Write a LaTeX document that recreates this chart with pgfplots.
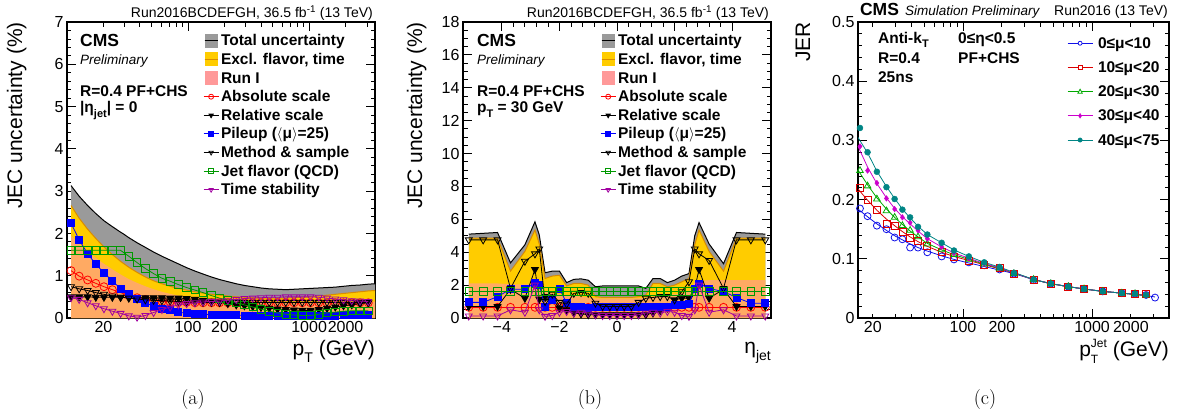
\documentclass[border=0pt]{standalone}
\usepackage{fontspec}
\usepackage{pgfplots}
\pgfplotsset{compat=1.18}
\newfontfamily\arial{Liberation Sans}
\newcommand{\fA}{\arial\fontsize{16}{19}\selectfont}
\newcommand{\fB}{\arial\bfseries\fontsize{15.5}{18}\selectfont}
\newcommand{\fL}{\arial\fontsize{21}{25}\selectfont}
\newcommand{\fT}{\arial\fontsize{14}{17}\selectfont}
\newcommand{\fCMS}{\arial\bfseries\fontsize{17.5}{21}\selectfont}
\newcommand{\fP}{\arial\itshape\fontsize{13.5}{16}\selectfont}
\newcommand{\sub}[2]{\raisebox{#1}{\fontsize{11}{11}\selectfont #2}}
\definecolor{rootgray}{HTML}{9A9A9A}
\definecolor{rootgold}{HTML}{FFCC00}
\definecolor{rootorange}{HTML}{D98C00}
\definecolor{runI}{HTML}{FF9999}
\definecolor{rgreen}{HTML}{009900}
\definecolor{rpurple}{HTML}{A000A0}
\definecolor{cblue}{HTML}{1010E8}
\definecolor{cred}{HTML}{DD0000}
\definecolor{cgreen}{HTML}{00AA00}
\definecolor{cmag}{HTML}{CC00CC}
\definecolor{cteal}{HTML}{008585}
\tikzset{t/.style={inner sep=0pt}}
\pgfplotsset{
 cms/.style={
  scale only axis, anchor=south west, clip mode=individual,
  tick align=inside, major tick length=9pt, minor tick length=4.5pt,
  axis line style={line width=1.5pt},
  tick style={line width=0.8pt, black},
  tick label style={font=\fA},
  /pgf/number format/assume math mode=true,
  legend cell align=left,
  legend style={draw=none, fill=none, inner sep=0pt, font=\fB, row sep=2.6pt, column sep=2pt,
    nodes={inner sep=0pt, text height=13pt, text depth=3pt}},
  legend image code/.code={\draw[mark repeat=2,mark phase=2,#1] plot coordinates {(0pt,0pt) (7.5pt,0pt) (15pt,0pt)};},
  legend image post style={mark size=2.5pt},
 },
 jl/.style={line width=0.8pt, mark size=4pt},
 gbox/.style={legend image code/.code={\fill[rootgray, fill opacity=1] (1pt,-7pt) rectangle (14pt,7pt); \draw[black,line width=1pt] (1pt,0pt)--(14pt,0pt);}},
 ybox/.style={legend image code/.code={\fill[rootgold, fill opacity=1] (1pt,-7pt) rectangle (14pt,7pt); \draw[rootorange,line width=1.2pt] (1pt,0pt)--(14pt,0pt);}},
 rbox/.style={legend image code/.code={\fill[runI, fill opacity=1] (1pt,-7pt) rectangle (14pt,7pt);}},
}
\begin{document}
\begin{tikzpicture}
\useasboundingbox (0pt,0pt) rectangle (1180pt,416pt);
% ================= (a) =================
\begin{axis}[cms, at={(67pt,98pt)}, width=308pt, height=296pt,
  xmode=log, xmin=10, xmax=3500, ymin=0, ymax=7,
  xtick={100,1000}, xticklabels={100,1000},
  extra x ticks={20,200,2000}, extra x tick labels={20,200,2000},
  extra x tick style={major tick length=4.5pt},
  minor xtick={20,30,40,50,60,70,80,90,200,300,400,500,600,700,800,900,2000,3000},
  ytick={0,1,2,3,4,5,6,7}, minor y tick num=4,
  legend style={at={(0.4416,0.9639)}, anchor=north west}]
\addplot[fill=rootgray, draw=none, gbox] coordinates {(10.8,3.13)(12.6,2.88)(14.8,2.66)(17.3,2.47)(20.2,2.3)(23.7,2.16)(27.7,2.03)(29.2,1.99)(32.4,1.9)(37.9,1.78)(44.4,1.67)(51.9,1.56)(60.8,1.46)(71.1,1.37)(83.2,1.28)(97.3,1.19)(114,1.11)(133,1.04)(156,0.97)(182,0.91)(213,0.86)(250,0.81)(292,0.77)(342,0.74)(400,0.71)(468,0.69)(548,0.68)(641,0.67)(750,0.68)(877,0.69)(1026,0.7)(1201,0.71)(1405,0.72)(1644,0.73)(1923,0.75)(2250,0.77)(2633,0.78)(3080,0.8)(3500,0.81)} \closedcycle;
\addlegendentry{Total uncertainty}
\addplot[black, line width=1pt, forget plot] coordinates {(10.8,3.13)(12.6,2.88)(14.8,2.66)(17.3,2.47)(20.2,2.3)(23.7,2.16)(27.7,2.03)(29.2,1.99)(32.4,1.9)(37.9,1.78)(44.4,1.67)(51.9,1.56)(60.8,1.46)(71.1,1.37)(83.2,1.28)(97.3,1.19)(114,1.11)(133,1.04)(156,0.97)(182,0.91)(213,0.86)(250,0.81)(292,0.77)(342,0.74)(400,0.71)(468,0.69)(548,0.68)(641,0.67)(750,0.68)(877,0.69)(1026,0.7)(1201,0.71)(1405,0.72)(1644,0.73)(1923,0.75)(2250,0.77)(2633,0.78)(3080,0.8)(3500,0.81)};
\addplot[fill=rootgold, draw=none, ybox] coordinates {(10.8,2.66)(12.6,2.36)(14.8,2.1)(17.3,1.88)(20.2,1.68)(23.7,1.5)(27.7,1.34)(32.4,1.2)(37.9,1.08)(44.4,0.97)(51.9,0.88)(60.8,0.81)(71.1,0.75)(83.2,0.7)(97.3,0.66)(114,0.62)(133,0.59)(156,0.56)(182,0.54)(213,0.52)(250,0.5)(292,0.49)(342,0.48)(400,0.47)(468,0.47)(548,0.47)(641,0.47)(750,0.48)(877,0.49)(1026,0.5)(1201,0.52)(1405,0.54)(1644,0.56)(1923,0.58)(2250,0.6)(2633,0.62)(3080,0.64)(3500,0.65)} \closedcycle;
\addlegendentry{Excl. flavor, time}
\addplot[rootorange, line width=1pt, forget plot] coordinates {(10.8,2.66)(12.6,2.36)(14.8,2.1)(17.3,1.88)(20.2,1.68)(23.7,1.5)(27.7,1.34)(32.4,1.2)(37.9,1.08)(44.4,0.97)(51.9,0.88)(60.8,0.81)(71.1,0.75)(83.2,0.7)(97.3,0.66)(114,0.62)(133,0.59)(156,0.56)(182,0.54)(213,0.52)(250,0.5)(292,0.49)(342,0.48)(400,0.47)(468,0.47)(548,0.47)(641,0.47)(750,0.48)(877,0.49)(1026,0.5)(1201,0.52)(1405,0.54)(1644,0.56)(1923,0.58)(2250,0.6)(2633,0.62)(3080,0.64)(3500,0.65)};
\addplot[fill=runI, fill opacity=0.65, draw=none, rbox] coordinates {(10.8,1.95)(12.6,1.75)(14.8,1.57)(17.3,1.42)(20.2,1.28)(23.7,1.15)(27.7,1.03)(32.4,0.92)(37.9,0.83)(44.4,0.75)(51.9,0.68)(60.8,0.62)(71.1,0.57)(83.2,0.53)(97.3,0.49)(133,0.45)(182,0.42)(250,0.4)(400,0.38)(641,0.37)(1026,0.37)(1644,0.37)(2633,0.38)(3500,0.39)} \closedcycle;
\addlegendentry{Run I}
\addplot[red, mark=o, jl] coordinates {(10.8,1.12)(12.6,0.99)(14.8,0.9)(17.3,0.82)(20.2,0.74)(23.7,0.67)(27.7,0.6)(32.4,0.53)(37.9,0.48)(44.4,0.44)(51.9,0.41)(60.8,0.39)(71.1,0.38)(83.2,0.37)(97.3,0.37)(114,0.36)(133,0.36)(156,0.36)(182,0.36)(213,0.36)(250,0.36)(292,0.36)(342,0.36)(400,0.36)(468,0.36)(548,0.36)(641,0.36)(750,0.36)(877,0.36)(1026,0.36)(1201,0.36)(1405,0.36)(1644,0.36)(1923,0.36)(2250,0.36)(2633,0.36)(3080,0.36)};
\addlegendentry{Absolute scale}
\addplot[black, mark=triangle*, mark options={rotate=180}, jl] coordinates {(10.8,0.5)(12.6,0.5)(14.8,0.5)(17.3,0.49)(20.2,0.49)(23.7,0.49)(27.7,0.49)(32.4,0.48)(37.9,0.48)(44.4,0.48)(51.9,0.48)(60.8,0.48)(71.1,0.47)(83.2,0.47)(97.3,0.46)(114,0.44)(133,0.42)(156,0.4)(182,0.37)(213,0.34)(250,0.31)(292,0.29)(342,0.27)(400,0.25)(468,0.23)(548,0.21)(641,0.2)(750,0.19)(877,0.18)(1026,0.18)(1201,0.2)(1405,0.23)(1644,0.26)(1923,0.29)(2250,0.31)(2633,0.34)(3080,0.36)};
\addlegendentry{Relative scale}
\addplot[blue, mark=square*, jl, mark size=3.5pt] coordinates {(10.8,2.24)(12.6,1.85)(14.8,1.52)(17.3,1.27)(20.2,1.07)(23.7,0.87)(27.7,0.7)(32.4,0.57)(37.9,0.46)(44.4,0.36)(51.9,0.28)(60.8,0.22)(71.1,0.18)(83.2,0.14)(97.3,0.11)(114,0.1)(133,0.09)(156,0.08)(182,0.07)(213,0.07)(250,0.07)(292,0.06)(342,0.06)(400,0.06)(468,0.06)(548,0.06)(641,0.06)(750,0.06)(877,0.06)(1026,0.06)(1201,0.06)(1405,0.06)(1644,0.06)(1923,0.07)(2250,0.07)(2633,0.07)(3080,0.07)};
\addlegendentry{Pileup ($\langle$μ$\rangle$=25)}
\addplot[black, mark=triangle, mark options={rotate=180}, jl] coordinates {(10.8,0.74)(12.6,0.69)(14.8,0.65)(17.3,0.6)(20.2,0.56)(23.7,0.52)(27.7,0.49)(32.4,0.47)(37.9,0.45)(44.4,0.43)(51.9,0.42)(60.8,0.41)(71.1,0.4)(83.2,0.39)(97.3,0.38)(114,0.37)(133,0.37)(156,0.37)(182,0.37)(213,0.37)(250,0.37)(292,0.37)(342,0.37)(400,0.37)(468,0.37)(548,0.37)(641,0.37)(750,0.37)(877,0.37)(1026,0.37)(1201,0.37)(1405,0.37)(1644,0.37)(1923,0.37)(2250,0.37)(2633,0.37)(3080,0.37)};
\addlegendentry{Method \& sample}
\addplot[rgreen, mark=square, jl, mark size=3.8pt] coordinates {(10.8,1.6)(12.6,1.6)(14.8,1.6)(17.3,1.6)(20.2,1.6)(23.7,1.6)(27.7,1.6)(32.4,1.46)(37.9,1.31)(44.4,1.17)(51.9,1.05)(60.8,0.94)(71.1,0.87)(83.2,0.79)(97.3,0.72)(114,0.66)(133,0.6)(156,0.53)(182,0.47)(213,0.42)(250,0.36)(292,0.31)(342,0.26)(400,0.21)(468,0.16)(548,0.12)(641,0.09)(750,0.07)(877,0.06)(1026,0.06)(1201,0.09)(1405,0.12)(1644,0.14)(1923,0.16)(2250,0.17)(2633,0.17)(3080,0.17)};
\addlegendentry{Jet flavor (QCD)}
\addplot[rpurple, mark=triangle, mark options={rotate=180}, jl] coordinates {(10.8,0.48)(12.6,0.44)(14.8,0.36)(17.3,0.29)(20.2,0.22)(23.7,0.16)(27.7,0.11)(32.4,0.05)(37.9,0.02)(44.4,0.06)(51.9,0.13)(60.8,0.2)(71.1,0.26)(83.2,0.31)(97.3,0.34)(114,0.36)(133,0.38)(156,0.39)(182,0.4)(213,0.42)(250,0.44)(292,0.46)(342,0.47)(400,0.48)(468,0.49)(548,0.49)(641,0.5)(750,0.5)(877,0.5)(1026,0.5)(1201,0.49)(1405,0.47)(1644,0.45)(1923,0.43)(2250,0.41)(2633,0.4)(3080,0.39)};
\addlegendentry{Time stability}
\node[t, anchor=base west, font=\fCMS] at (rel axis cs:0.042,0.917) {CMS};
\node[t, anchor=base west, font=\fP] at (rel axis cs:0.042,0.858) {Preliminary};
\node[t, anchor=base west, font=\fB] at (rel axis cs:0.042,0.748) {R=0.4 PF+CHS};
\node[t, anchor=base west, font=\fB] at (rel axis cs:0.042,0.693) {|η\sub{-5pt}{jet}| = 0};
\node[t, anchor=base east, font=\fT] at ([xshift=-2pt,yshift=4.7pt]rel axis cs:1,1) {Run2016BCDEFGH, 36.5 fb\textsuperscript{-1} (13 TeV)};
\node[t, anchor=base east, rotate=90, font=\fL] at ([xshift=-45pt]rel axis cs:0,1) {JEC uncertainty (\%)};
\node[t, anchor=base east, font=\fL] at ([yshift=-37pt]rel axis cs:1,0) {p\raisebox{-7pt}{\fontsize{14}{14}\selectfont T} (GeV)};
\end{axis}
% ================= (b) =================
\begin{axis}[cms, at={(463pt,98pt)}, width=308pt, height=296pt,
  xmin=-5.35, xmax=5.35, ymin=0, ymax=18,
  xtick={-4,-2,0,2,4}, xticklabels={−4,−2,0,2,4}, minor x tick num=4,
  ytick={0,2,4,6,8,10,12,14,16,18}, minor y tick num=3,
  legend style={at={(0.445,0.9639)}, anchor=north west}]
\addplot[fill=rootgray, draw=none, gbox] coordinates {(-5.15,5.1)(-4.65,5.15)(-4.15,5.2)(-3.7,3.35)(-3.2,4.45)(-2.85,5.85)(-2.7,5.05)(-2.5,2.75)(-2.25,2.85)(-2.0,2.85)(-1.75,2.15)(-1.5,2.35)(-1.25,2.38)(-1.0,2.3)(-0.75,1.9)(-0.5,1.95)(-0.25,1.95)(0,1.95)(0.25,1.95)(0.5,1.95)(0.75,1.95)(1.0,1.8)(1.25,2.4)(1.5,2.4)(1.75,2.15)(2.0,2.3)(2.25,2.55)(2.5,2.7)(2.7,5.0)(2.85,5.8)(3.2,4.5)(3.7,3.3)(4.15,5.2)(4.65,5.15)(5.15,5.1)} \closedcycle;
\addlegendentry{Total uncertainty}
\addplot[black, line width=1pt, forget plot] coordinates {(-5.15,5.1)(-4.65,5.15)(-4.15,5.2)(-3.7,3.35)(-3.2,4.45)(-2.85,5.85)(-2.7,5.05)(-2.5,2.75)(-2.25,2.85)(-2.0,2.85)(-1.75,2.15)(-1.5,2.35)(-1.25,2.38)(-1.0,2.3)(-0.75,1.9)(-0.5,1.95)(-0.25,1.95)(0,1.95)(0.25,1.95)(0.5,1.95)(0.75,1.95)(1.0,1.8)(1.25,2.4)(1.5,2.4)(1.75,2.15)(2.0,2.3)(2.25,2.55)(2.5,2.7)(2.7,5.0)(2.85,5.8)(3.2,4.5)(3.7,3.3)(4.15,5.2)(4.65,5.15)(5.15,5.1)};
\addplot[fill=rootgold, draw=none, ybox] coordinates {(-5.15,4.85)(-4.65,4.85)(-4.15,4.85)(-3.7,2.85)(-3.2,4.05)(-2.85,5.35)(-2.7,4.5)(-2.5,2.4)(-2.25,2.55)(-2.0,2.6)(-1.75,1.95)(-1.5,2.1)(-1.25,2.1)(-1.0,2.0)(-0.75,1.3)(-0.5,1.25)(-0.25,1.25)(0,1.25)(0.25,1.25)(0.5,1.25)(0.75,1.3)(1.0,1.4)(1.25,2.1)(1.5,2.1)(1.75,1.9)(2.0,2.0)(2.25,2.2)(2.5,2.4)(2.7,4.45)(2.85,5.35)(3.2,4.05)(3.7,2.85)(4.15,4.85)(4.65,4.85)(5.15,4.85)} \closedcycle;
\addlegendentry{Excl. flavor, time}
\addplot[rootorange, line width=1pt, forget plot] coordinates {(-5.15,4.85)(-4.65,4.85)(-4.15,4.85)(-3.7,2.85)(-3.2,4.05)(-2.85,5.35)(-2.7,4.5)(-2.5,2.4)(-2.25,2.55)(-2.0,2.6)(-1.75,1.95)(-1.5,2.1)(-1.25,2.1)(-1.0,2.0)(-0.75,1.3)(-0.5,1.25)(-0.25,1.25)(0,1.25)(0.25,1.25)(0.5,1.25)(0.75,1.3)(1.0,1.4)(1.25,2.1)(1.5,2.1)(1.75,1.9)(2.0,2.0)(2.25,2.2)(2.5,2.4)(2.7,4.45)(2.85,5.35)(3.2,4.05)(3.7,2.85)(4.15,4.85)(4.65,4.85)(5.15,4.85)};
\addplot[fill=runI, fill opacity=0.65, draw=none, rbox] coordinates {(-5.15,2.1)(-4.65,2.1)(-4.15,2.1)(-3.7,2.05)(-3.2,2.05)(-2.85,2.05)(-2.7,2.0)(-2.5,1.6)(-2.25,1.5)(-2.0,1.45)(-1.75,1.4)(-1.5,1.35)(-1.25,1.3)(-1.0,1.25)(-0.75,1.2)(-0.5,1.2)(-0.25,1.2)(0,1.2)(0.25,1.2)(0.5,1.2)(0.75,1.2)(1.0,1.25)(1.25,1.3)(1.5,1.35)(1.75,1.4)(2.0,1.45)(2.25,1.5)(2.5,1.6)(2.7,2.2)(2.85,2.25)(3.2,2.3)(3.7,2.3)(4.15,2.3)(4.65,2.3)(5.15,2.3)} \closedcycle;
\addlegendentry{Run I}
\addplot[red, mark=o, jl] coordinates {(-5.15,0.65)(-4.65,0.65)(-4.15,0.65)(-3.7,0.65)(-3.2,0.65)(-2.85,0.65)(-2.7,0.65)(-2.5,0.65)(-2.25,0.65)(-2.0,0.65)(-1.75,0.65)(-1.5,0.65)(-1.25,0.65)(-1.0,0.65)(-0.75,0.65)(-0.5,0.65)(-0.25,0.65)(0,0.65)(0.25,0.65)(0.5,0.65)(0.75,0.65)(1.0,0.65)(1.25,0.65)(1.5,0.65)(1.75,0.65)(2.0,0.65)(2.25,0.65)(2.5,0.65)(2.7,0.65)(2.85,0.65)(3.2,0.65)(3.7,0.65)(4.15,0.65)(4.65,0.65)(5.15,0.65)};
\addlegendentry{Absolute scale}
\addplot[black, mark=triangle*, mark options={rotate=180}, jl] coordinates {(-5.15,0.7)(-4.65,0.7)(-4.15,0.7)(-3.7,1.75)(-3.2,1.2)(-2.85,2.95)(-2.7,1.15)(-2.5,1.3)(-2.25,1.2)(-2.0,0.6)(-1.75,0.5)(-1.5,0.3)(-1.25,0.25)(-1.0,0.2)(-0.75,0.2)(-0.5,0.2)(-0.25,0.2)(0,0.2)(0.25,0.2)(0.5,0.2)(0.75,0.2)(1.0,0.2)(1.25,0.3)(1.5,0.45)(1.75,0.6)(2.0,1.1)(2.25,1.2)(2.5,1.2)(2.7,1.8)(2.85,2.95)(3.2,1.2)(3.7,1.75)(4.15,0.7)(4.65,0.7)(5.15,0.7)};
\addlegendentry{Relative scale}
\addplot[blue, mark=square*, jl, mark size=3.5pt] coordinates {(-5.15,0.95)(-4.65,0.95)(-4.15,1.3)(-3.7,1.75)(-3.2,1.75)(-2.85,2.15)(-2.7,2.0)(-2.5,0.7)(-2.25,1.1)(-2.0,1.8)(-1.75,0.9)(-1.5,0.7)(-1.25,0.65)(-1.0,0.6)(-0.75,0.7)(-0.5,0.7)(-0.25,0.7)(0,0.7)(0.25,0.7)(0.5,0.7)(0.75,0.65)(1.0,0.65)(1.25,0.65)(1.5,0.65)(1.75,0.7)(2.0,0.8)(2.25,0.8)(2.5,0.85)(2.7,1.8)(2.85,2.1)(3.2,1.8)(3.7,1.6)(4.15,1.25)(4.65,0.9)(5.15,0.9)};
\addlegendentry{Pileup ($\langle$μ$\rangle$=25)}
\addplot[black, mark=triangle, mark options={rotate=180}, jl] coordinates {(-5.15,4.75)(-4.65,4.75)(-4.15,4.75)(-3.7,1.8)(-3.2,3.45)(-2.85,3.9)(-2.7,4.2)(-2.5,1.0)(-2.25,1.45)(-2.0,0.95)(-1.75,0.85)(-1.5,1.5)(-1.25,1.55)(-1.0,1.5)(-0.75,0.9)(-0.5,0.7)(-0.25,0.7)(0,0.7)(0.25,0.7)(0.5,0.7)(0.75,0.95)(1.0,1.2)(1.25,1.25)(1.5,1.3)(1.75,1.3)(2.0,1.1)(2.25,1.6)(2.5,2.2)(2.7,4.2)(2.85,3.9)(3.2,3.5)(3.7,1.8)(4.15,4.75)(4.65,4.75)(5.15,4.75)};
\addlegendentry{Method \& sample}
\addplot[rgreen, mark=square, jl, mark size=3.8pt] coordinates {(-5.15,1.6)(-4.65,1.6)(-4.15,1.6)(-3.7,1.6)(-3.2,1.6)(-2.85,1.6)(-2.7,1.6)(-2.5,1.6)(-2.25,1.6)(-2.0,1.6)(-1.75,1.6)(-1.5,1.6)(-1.25,1.6)(-1.0,1.6)(-0.75,1.6)(-0.5,1.6)(-0.25,1.6)(0,1.6)(0.25,1.6)(0.5,1.6)(0.75,1.6)(1.0,1.6)(1.25,1.6)(1.5,1.6)(1.75,1.6)(2.0,1.6)(2.25,1.6)(2.5,1.6)(2.7,1.6)(2.85,1.6)(3.2,1.6)(3.7,1.6)(4.15,1.6)(4.65,1.6)(5.15,1.6)};
\addlegendentry{Jet flavor (QCD)}
\addplot[rpurple, mark=triangle, mark options={rotate=180}, jl] coordinates {(-5.15,0.12)(-4.65,0.12)(-4.15,0.12)(-3.7,0.5)(-3.2,0.35)(-2.85,2.0)(-2.7,0.5)(-2.5,0.1)(-2.25,0.15)(-2.0,0.35)(-1.75,0.4)(-1.5,0.3)(-1.25,0.35)(-1.0,0.3)(-0.75,0.2)(-0.5,0.15)(-0.25,0.15)(0,0.15)(0.25,0.15)(0.5,0.15)(0.75,0.2)(1.0,0.3)(1.25,0.35)(1.5,0.3)(1.75,0.4)(2.0,0.35)(2.25,0.15)(2.5,0.1)(2.7,0.5)(2.85,2.0)(3.2,0.35)(3.7,0.5)(4.15,0.12)(4.65,0.12)(5.15,0.12)};
\addlegendentry{Time stability}
\node[t, anchor=base west, font=\fCMS] at (rel axis cs:0.045,0.917) {CMS};
\node[t, anchor=base west, font=\fP] at (rel axis cs:0.045,0.858) {Preliminary};
\node[t, anchor=base west, font=\fB] at (rel axis cs:0.045,0.748) {R=0.4 PF+CHS};
\node[t, anchor=base west, font=\fB] at (rel axis cs:0.045,0.693) {p\sub{-5pt}{T} = 30 GeV};
\node[t, anchor=base east, font=\fT] at ([xshift=-2pt,yshift=4.7pt]rel axis cs:1,1) {Run2016BCDEFGH, 36.5 fb\textsuperscript{-1} (13 TeV)};
\node[t, anchor=base east, rotate=90, font=\fL] at ([xshift=-41pt]rel axis cs:0,1) {JEC uncertainty (\%)};
\node[t, anchor=base east, font=\fL] at ([yshift=-35pt]rel axis cs:1,0) {η\raisebox{-7pt}{\fontsize{14}{14}\selectfont jet}};
\end{axis}
% ================= (c) =================
\begin{axis}[cms, at={(858pt,98pt)}, width=311pt, height=296pt,
  xmode=log, xmin=15.35, xmax=3950, ymin=0, ymax=0.5,
  xtick={100,1000}, xticklabels={100,1000},
  extra x ticks={20,200,2000}, extra x tick labels={20,200,2000},
  extra x tick style={major tick length=4.5pt},
  minor xtick={20,30,40,50,60,70,80,90,200,300,400,500,600,700,800,900,2000,3000},
  ytick={0,0.1,0.2,0.3,0.4,0.5}, yticklabels={0,0.1,0.2,0.3,0.4,0.5}, minor y tick num=4,
  legend style={at={(0.672,0.956)}, anchor=north west, row sep=8.2pt, column sep=5pt}]
% fits
\addplot[cblue, line width=0.8pt, forget plot] coordinates {(15.35,0.184)(18.2,0.171)(21.5,0.159)(25.5,0.148)(29.5,0.139)(33.9,0.132)(38.9,0.125)(44.8,0.119)(52.9,0.113)(68.3,0.105)(85.1,0.099)(111,0.093)(146,0.087)(192,0.081)(248,0.075)(352,0.065)(479,0.058)(655,0.053)(867,0.049)(1211,0.045)(1700,0.042)(2153,0.040)(2623,0.038)(3078,0.0355)};
\addplot[cred, line width=0.8pt, forget plot] coordinates {(15.35,0.218)(18.2,0.199)(21.5,0.182)(25.5,0.167)(29.5,0.156)(33.9,0.146)(38.9,0.137)(44.8,0.129)(52.9,0.121)(68.3,0.111)(85.1,0.104)(111,0.097)(146,0.090)(192,0.083)(248,0.076)(352,0.065)(479,0.058)(655,0.053)(867,0.049)(1211,0.045)(1700,0.042)(2153,0.040)(2623,0.038)};
\addplot[cgreen, line width=0.8pt, forget plot] coordinates {(15.35,0.25)(18.2,0.225)(21.5,0.203)(25.5,0.184)(29.5,0.170)(33.9,0.158)(38.9,0.147)(44.8,0.137)(52.9,0.126)(68.3,0.115)(85.1,0.107)(111,0.099)(146,0.091)(192,0.084)(248,0.076)(352,0.065)(479,0.058)(655,0.053)(867,0.049)(1211,0.045)(1700,0.042)(2153,0.040)(2623,0.038)};
\addplot[cmag, line width=0.8pt, forget plot] coordinates {(15.35,0.29)(18.2,0.255)(21.5,0.227)(25.5,0.203)(29.5,0.185)(33.9,0.171)(38.9,0.159)(44.8,0.147)(52.9,0.134)(68.3,0.120)(85.1,0.110)(111,0.101)(146,0.092)(192,0.085)(248,0.076)(352,0.065)(479,0.058)(655,0.053)(867,0.049)(1211,0.045)(1700,0.042)(2153,0.040)(2623,0.038)};
\addplot[cteal, line width=0.8pt, forget plot] coordinates {(15.35,0.305)(18.2,0.279)(21.5,0.248)(25.5,0.222)(29.5,0.202)(33.9,0.184)(38.9,0.169)(44.8,0.155)(52.9,0.141)(68.3,0.127)(85.1,0.115)(111,0.104)(146,0.094)(192,0.086)(248,0.077)(352,0.065)(479,0.058)(655,0.053)(867,0.049)(1211,0.045)(1700,0.042)(2153,0.040)(2623,0.038)};
% data
\addplot[cblue, only marks, mark=o, mark size=3.5pt, line width=0.8pt,
  legend image code/.code={\draw[cblue,line width=0.8pt] (0pt,0pt)--(25pt,0pt); \draw[cblue,line width=0.8pt,fill=white] (12.5pt,0pt) circle (2pt);}]
  coordinates {(15.9,0.185)(18.2,0.172)(21.5,0.156)(25.5,0.150)(29.5,0.136)(33.9,0.133)(38.9,0.119)(44.8,0.119)(52.9,0.111)(68.3,0.104)(85.1,0.099)(111,0.094)(146,0.089)(192,0.082)(248,0.075)(352,0.064)(479,0.058)(655,0.053)(867,0.049)(1211,0.045)(1700,0.042)(2153,0.041)(2623,0.039)(3078,0.0345)};
\addlegendentry{0≤μ<10}
\addplot[cred, only marks, mark=square, mark size=3.5pt, line width=0.8pt,
  legend image code/.code={\draw[cred,line width=0.8pt] (0pt,0pt)--(25pt,0pt); \draw[cred,line width=0.8pt,fill=white] (10.5pt,-2pt) rectangle (14.5pt,2pt);}]
  coordinates {(15.9,0.219)(18.2,0.199)(21.5,0.182)(25.5,0.159)(29.5,0.155)(33.9,0.146)(38.9,0.136)(44.8,0.130)(52.9,0.121)(68.3,0.111)(85.1,0.104)(111,0.097)(146,0.090)(192,0.084)(248,0.075)(352,0.065)(479,0.058)(655,0.053)(867,0.049)(1211,0.045)(1700,0.042)(2153,0.041)(2623,0.040)};
\addlegendentry{10≤μ<20}
\addplot[cgreen, only marks, mark=triangle, mark size=3.8pt, line width=0.8pt,
  legend image code/.code={\draw[cgreen,line width=0.8pt] (0pt,0pt)--(25pt,0pt); \draw[cgreen,line width=0.8pt,fill=white] (10.3pt,-1.6pt)--(14.7pt,-1.6pt)--(12.5pt,2.4pt)--cycle;}]
  coordinates {(15.9,0.249)(18.2,0.223)(21.5,0.201)(25.5,0.181)(29.5,0.170)(33.9,0.156)(38.9,0.148)(44.8,0.137)(52.9,0.125)(68.3,0.116)(85.1,0.107)(111,0.099)(146,0.091)(192,0.084)(248,0.075)(352,0.065)(479,0.058)(655,0.053)(867,0.049)(1211,0.045)(1700,0.042)(2153,0.041)(2623,0.039)};
\addlegendentry{20≤μ<30}
\addplot[cmag, only marks, mark=diamond*, mark size=2.8pt,
  legend image code/.code={\draw[cmag,line width=0.8pt] (0pt,0pt)--(25pt,0pt); \fill[cmag] (12.5pt,-2.4pt)--(14pt,0pt)--(12.5pt,2.4pt)--(11pt,0pt)--cycle;}]
  coordinates {(15.9,0.290)(18.2,0.249)(21.5,0.228)(25.5,0.202)(29.5,0.184)(33.9,0.170)(38.9,0.161)(44.8,0.148)(52.9,0.134)(68.3,0.120)(85.1,0.110)(111,0.101)(146,0.092)(192,0.084)(248,0.076)(352,0.065)(479,0.058)(655,0.053)(867,0.049)(1211,0.045)(1700,0.042)(2153,0.041)(2623,0.041)};
\addlegendentry{30≤μ<40}
\addplot[cteal, only marks, mark=*, mark size=3pt,
  legend image code/.code={\draw[cteal,line width=0.8pt] (0pt,0pt)--(25pt,0pt); \fill[cteal] (12.5pt,0pt) circle (2.2pt);}]
  coordinates {(15.9,0.321)(18.2,0.280)(21.5,0.247)(25.5,0.221)(29.5,0.201)(33.9,0.183)(38.9,0.170)(44.8,0.154)(52.9,0.141)(68.3,0.127)(85.1,0.114)(111,0.104)(146,0.094)(192,0.086)(248,0.076)(352,0.065)(479,0.058)(655,0.053)(867,0.049)(1211,0.045)(1700,0.042)(2153,0.041)(2623,0.039)};
\addlegendentry{40≤μ<75}
\node[t, anchor=base west, font=\fB] at (rel axis cs:0.064,0.929) {Anti-k\sub{-4pt}{T}};
\node[t, anchor=base west, font=\fB] at (rel axis cs:0.064,0.861) {R=0.4};
\node[t, anchor=base west, font=\fB] at (rel axis cs:0.064,0.794) {25ns};
\node[t, anchor=base west, font=\fB] at (rel axis cs:0.3215,0.929) {0≤η<0.5};
\node[t, anchor=base west, font=\fB] at (rel axis cs:0.3215,0.861) {PF+CHS};
\node[t, anchor=base west, font=\fCMS] at ([yshift=6.5pt]rel axis cs:0.006,1) {CMS};
\node[t, anchor=base west, font=\fP] at ([yshift=6.5pt]rel axis cs:0.151,1) {Simulation Preliminary};
\node[t, anchor=base east, font=\fT] at ([xshift=-1pt,yshift=6.5pt]rel axis cs:1,1) {Run2016 (13 TeV)};
\node[t, anchor=base east, rotate=90, font=\fL] at ([xshift=-48pt]rel axis cs:0,1) {JER};
\node[t, anchor=base east, font=\fL] at ([yshift=-38pt]rel axis cs:1,0) {p\rlap{\raisebox{-7.5pt}{\fontsize{12}{12}\selectfont T}}\raisebox{8.5pt}{\fontsize{12}{12}\selectfont Jet} (GeV)};
\end{axis}
\node[font=\fontsize{20}{24}\selectfont] at (193pt,16pt) {(a)};
\node[font=\fontsize{20}{24}\selectfont] at (590pt,16pt) {(b)};
\node[font=\fontsize{20}{24}\selectfont] at (985pt,16pt) {(c)};
\end{tikzpicture}
\end{document}
